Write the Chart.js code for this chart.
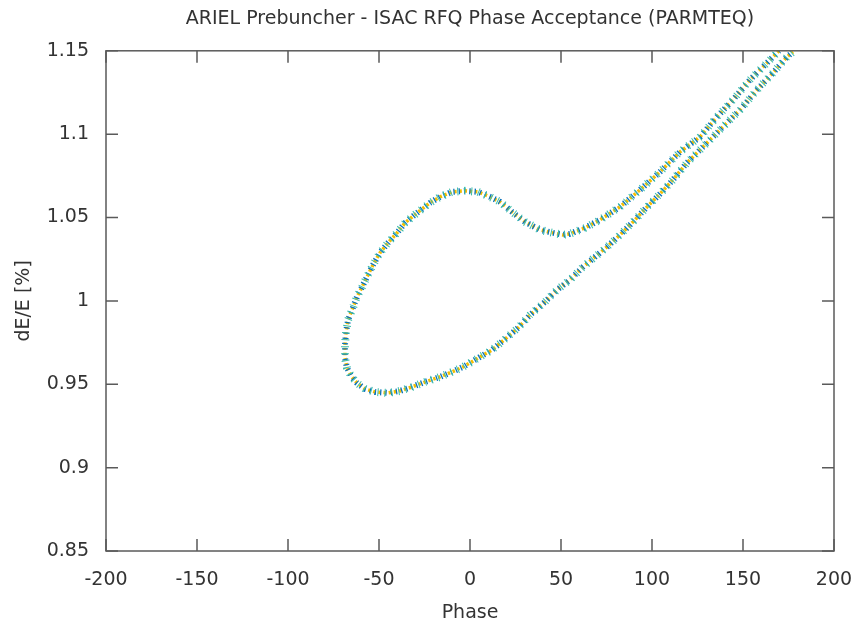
<!DOCTYPE html>
<html lang="en">

<head>
    <meta charset="UTF-8">
    <meta name="viewport" content="width=device-width, initial-scale=1.0">
    <title>ARIEL Prebuncher - ISAC RFQ Phase Acceptance</title>
    <style>
        html,
        body {
            margin: 0;
            padding: 0;
            background: #fff;
        }

        #wrap {
            width: 858px;
            height: 624px;
        }
    </style>
</head>

<body>

    <div id="wrap">
        <canvas id="myChart" width="858" height="624"></canvas>
    </div>

    <script src="https://cdn.jsdelivr.net/npm/chart.js"></script>

    <script>
        // acceptance boundary (phase in deg, dE/E in %)
        const phase = [169.8, 163.2, 153.8, 144.5, 135.7, 126.4, 115.4, 104.4, 93.4, 82.4, 71.4, 63.2, 54.9, 51.1,
            45.6, 38.5, 30.2, 23.1, 16.5, 11.0, 4.4, -2.7,
            -9.9, -16.5, -22.0, -29.1, -35.7, -40.1, -45.1, -49.5, -53.3, -56.6, -59.3, -62.1, -64.8, -67.0, -68.1, -68.7,
            -68.7, -67.6, -65.4, -62.1, -57.7, -52.2, -45.1, -38.5,
            -31.9, -24.7, -16.5, -9.9, -3.8, 5.5, 12.1, 18.1, 26.4, 33.0, 41.2, 47.8, 54.9, 62.1, 68.7, 75.3, 82.4,
            89.6, 97.3, 104.4, 111.5, 119.2, 126.4, 131.9, 139.0, 148.4, 157.7, 166.5, 174.2, 177.5];
        const dE = [1.150, 1.1428, 1.1326, 1.1206, 1.1104, 1.0984, 1.0894, 1.0774, 1.0666, 1.0564, 1.0486, 1.0438, 1.0402, 1.0396,
            1.0408, 1.0426, 1.0474, 1.0534, 1.0594, 1.0624, 1.0654, 1.066,
            1.0654, 1.0624, 1.0588, 1.0528, 1.0468, 1.0408, 1.0348, 1.0288, 1.0216, 1.0144, 1.0084, 1.0024, 0.9946, 0.9886, 0.9814, 0.9736,
            0.9658, 0.9598, 0.955, 0.9508, 0.9472, 0.9454, 0.9448, 0.946,
            0.9484, 0.9514, 0.9544, 0.9574, 0.9604, 0.9664, 0.9706, 0.976, 0.9838, 0.9916, 0.9994, 1.0066, 1.0126,
            1.0204, 1.0264, 1.0324, 1.0396, 1.0474, 1.0564, 1.0642, 1.0726, 1.0828, 1.0906, 1.0966, 1.1044, 1.1146,
            1.1266, 1.1368, 1.1464, 1.1494];

        const xTicks = [-200, -150, -100, -50, 0, 50, 100, 150, 200];
        const yTicks = [0.85, 0.9, 0.95, 1, 1.05, 1.1, 1.15];

        const points = phase.map((p, i) => ({ x: p, y: dE[i] }));

        // gnuplot style frame with inward ticks on all four sides
        const framePlugin = {
            id: 'frame',
            afterDraw(chart) {
                const ctx = chart.ctx;
                const a = chart.chartArea;
                const xs = chart.scales.x;
                const ys = chart.scales.y;
                const len = 12;
                ctx.save();
                ctx.strokeStyle = '#5a5a5a';
                ctx.lineWidth = 1.5;
                ctx.beginPath();
                xTicks.forEach(v => {
                    const px = xs.getPixelForValue(v);
                    ctx.moveTo(px, a.bottom);
                    ctx.lineTo(px, a.bottom - len);
                    ctx.moveTo(px, a.top);
                    ctx.lineTo(px, a.top + len);
                });
                yTicks.forEach(v => {
                    const py = ys.getPixelForValue(v);
                    ctx.moveTo(a.left, py);
                    ctx.lineTo(a.left + len, py);
                    ctx.moveTo(a.right, py);
                    ctx.lineTo(a.right - len, py);
                });
                ctx.stroke();
                ctx.strokeRect(a.left, a.top, a.right - a.left, a.bottom - a.top);
                ctx.restore();
            }
        };

        const font = { family: 'DejaVu Sans', size: 19 };

        const ctx = document.getElementById('myChart').getContext('2d');
        const myChart = new Chart(ctx, {
            type: 'scatter',
            data: {
                datasets: [{
                    label: 'set 3',
                    data: points,
                    showLine: true,
                    pointRadius: 0,
                    borderColor: '#3dbfa8',
                    borderWidth: 8,
                    borderDash: [1, 6],
                    borderDashOffset: 2
                }, {
                    label: 'set 1',
                    data: points,
                    showLine: true,
                    pointRadius: 0,
                    borderColor: '#0a74bd',
                    borderWidth: 6,
                    borderDash: [1.3, 4],
                    borderDashOffset: 0.5
                }, {
                    label: 'set 2',
                    data: points,
                    showLine: true,
                    pointRadius: 0,
                    borderColor: '#f4bd00',
                    borderWidth: 3.5,
                    borderDash: [2.4, 2.8],
                    borderDashOffset: 0
                }]
            },
            options: {
                responsive: false,
                animation: false,
                layout: {
                    padding: { left: 0, right: 24, top: 0, bottom: 0 }
                },
                plugins: {
                    legend: { display: false },
                    tooltip: { enabled: false },
                    title: {
                        display: true,
                        text: 'ARIEL Prebuncher - ISAC RFQ Phase Acceptance (PARMTEQ)',
                        fullSize: false,
                        color: '#333',
                        font: { family: 'DejaVu Sans', size: 19, weight: 'normal' },
                        padding: { top: 8, bottom: 20 }
                    }
                },
                scales: {
                    x: {
                        type: 'linear',
                        min: -200,
                        max: 200,
                        afterBuildTicks: s => { s.ticks = xTicks.map(v => ({ value: v })); },
                        afterFit: s => { s.height = 73; },
                        grid: { display: false, drawTicks: true, tickLength: 18 },
                        border: { display: false },
                        ticks: {
                            color: '#333',
                            font: font,
                            padding: 0,
                            maxRotation: 0,
                            callback: v => String(v)
                        },
                        title: {
                            display: true,
                            text: 'Phase',
                            color: '#333',
                            font: font,
                            padding: { top: 0, bottom: 0 }
                        }
                    },
                    y: {
                        type: 'linear',
                        min: 0.85,
                        max: 1.15,
                        afterBuildTicks: s => { s.ticks = yTicks.map(v => ({ value: v })); },
                        afterFit: s => { s.width = 106; },
                        grid: { display: false, drawTicks: false },
                        border: { display: false },
                        ticks: {
                            color: '#333',
                            font: font,
                            padding: 17,
                            callback: v => String(v)
                        },
                        title: {
                            display: true,
                            text: 'dE/E [%]',
                            color: '#333',
                            font: font,
                            padding: { top: 13, bottom: 0 }
                        }
                    }
                }
            },
            plugins: [framePlugin]
        });
    </script>

</body>

</html>
